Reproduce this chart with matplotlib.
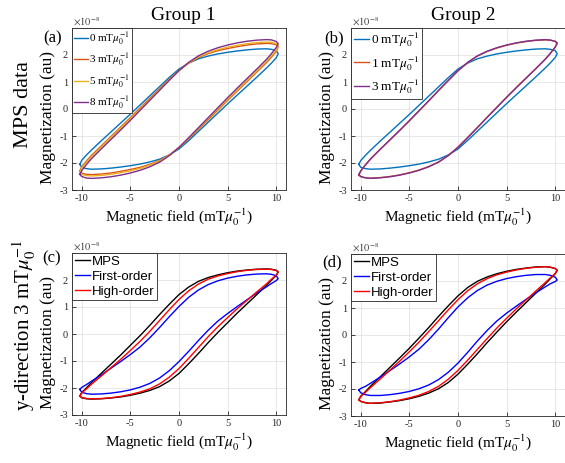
import numpy as np
import matplotlib
matplotlib.use('Agg')
import matplotlib.pyplot as plt

plt.rcParams['font.family'] = ['Liberation Serif', 'DejaVu Serif']
plt.rcParams['mathtext.fontset'] = 'stix'
plt.rcParams['axes.unicode_minus'] = False

# field values (mT/mu0) where the rising branch was read; the falling branch
# is the point reflection of the rising one
field = [-10.2, -10, -9.5, -9, -8, -7, -6, -5, -4, -3, -2, -1, 0,
         1, 2, 3, 4, 5, 6, 7, 8, 9, 9.5, 10, 10.2]

# (a) group 1, MPS data, rising branch, x1e-8 au
a_0mT = [-2.05, -2.16, -2.21, -2.23, -2.22, -2.19, -2.15, -2.10, -2.04, -1.96, -1.86, -1.70, -1.48,
         -1.17, -0.83, -0.49, -0.15, 0.19, 0.52, 0.85, 1.18, 1.52, 1.70, 1.90, 2.05]
a_3mT = [-2.30, -2.38, -2.42, -2.43, -2.41, -2.37, -2.31, -2.24, -2.16, -2.05, -1.91, -1.70, -1.43,
         -1.10, -0.75, -0.40, -0.04, 0.32, 0.67, 1.02, 1.37, 1.72, 1.92, 2.14, 2.30]
a_5mT = [-2.35, -2.42, -2.47, -2.48, -2.46, -2.42, -2.36, -2.29, -2.20, -2.08, -1.93, -1.71, -1.42,
         -1.08, -0.72, -0.36, 0.00, 0.36, 0.71, 1.06, 1.41, 1.77, 1.97, 2.18, 2.35]
a_8mT = [-2.42, -2.50, -2.56, -2.57, -2.55, -2.51, -2.45, -2.37, -2.27, -2.14, -1.97, -1.73, -1.42,
         -1.06, -0.69, -0.32, 0.05, 0.42, 0.78, 1.13, 1.48, 1.84, 2.05, 2.28, 2.42]

# (b) group 2, MPS data
b_0mT = [-2.05, -2.16, -2.21, -2.23, -2.22, -2.19, -2.15, -2.10, -2.04, -1.96, -1.86, -1.70, -1.48,
         -1.16, -0.82, -0.48, -0.14, 0.20, 0.53, 0.86, 1.19, 1.53, 1.71, 1.91, 2.05]
b_1mT = [-2.45, -2.51, -2.55, -2.56, -2.54, -2.50, -2.44, -2.36, -2.26, -2.13, -1.96, -1.72, -1.41,
         -1.05, -0.68, -0.30, 0.07, 0.44, 0.80, 1.15, 1.50, 1.86, 2.07, 2.30, 2.45]
b_3mT = [-2.43, -2.50, -2.55, -2.57, -2.55, -2.51, -2.45, -2.37, -2.27, -2.14, -1.97, -1.73, -1.42,
         -1.06, -0.69, -0.31, 0.06, 0.43, 0.79, 1.14, 1.49, 1.85, 2.06, 2.29, 2.43]

# (c) group 1, y-direction 3 mT: data vs models
c_mps = [-2.30, -2.36, -2.40, -2.41, -2.40, -2.37, -2.33, -2.27, -2.19, -2.09, -1.95, -1.74, -1.46,
         -1.10, -0.72, -0.32, 0.06, 0.42, 0.78, 1.12, 1.46, 1.80, 1.99, 2.17, 2.30]
c_first = [-2.05, -2.16, -2.21, -2.23, -2.22, -2.19, -2.14, -2.07, -1.97, -1.83, -1.63, -1.36, -1.02,
           -0.64, -0.24, 0.14, 0.48, 0.76, 1.02, 1.27, 1.52, 1.75, 1.87, 1.98, 2.05]
c_high = [-2.30, -2.35, -2.39, -2.40, -2.39, -2.36, -2.31, -2.24, -2.15, -2.03, -1.85, -1.60, -1.28,
          -0.90, -0.50, -0.10, 0.27, 0.61, 0.94, 1.25, 1.56, 1.86, 2.03, 2.18, 2.30]

# (d) group 2, y-direction 3 mT: data vs models
d_mps = [-2.40, -2.46, -2.51, -2.53, -2.52, -2.48, -2.43, -2.36, -2.27, -2.15, -1.99, -1.76, -1.45,
         -1.08, -0.69, -0.28, 0.11, 0.49, 0.85, 1.20, 1.55, 1.90, 2.09, 2.27, 2.40]
d_first = [-2.04, -2.14, -2.21, -2.24, -2.24, -2.21, -2.16, -2.09, -1.99, -1.85, -1.65, -1.38, -1.04,
           -0.64, -0.22, 0.17, 0.52, 0.81, 1.07, 1.32, 1.56, 1.79, 1.90, 1.98, 2.04]
d_high = [-2.40, -2.46, -2.51, -2.53, -2.51, -2.47, -2.41, -2.33, -2.23, -2.09, -1.90, -1.64, -1.31,
          -0.93, -0.53, -0.13, 0.26, 0.62, 0.97, 1.30, 1.63, 1.95, 2.12, 2.28, 2.40]

W, H = 565, 463
fig = plt.figure(figsize=(W / 100, H / 100), dpi=100)


def loop(m):
    x = np.array(field, dtype=float)
    y = np.array(m, dtype=float)
    return np.concatenate([x, -x]), np.concatenate([y, -y])


def make_axes(left, top, bottom, width=214):
    ax = fig.add_axes([left / W, 1 - bottom / H, width / W, (bottom - top) / H])
    ax.set_xlim(-11, 11)
    ax.set_ylim(-3, 3)
    ax.set_xticks([-10, -5, 0, 5, 10])
    ax.set_yticks([-3, -2, -1, 0, 1, 2])
    ax.grid(True, color='#e3e3e3', lw=0.6)
    ax.set_axisbelow(True)
    ax.tick_params(direction='in', length=3, width=0.6, labelsize=7.5,
                   colors='#262626', pad=3)
    for s in ax.spines.values():
        s.set_color('#262626')
        s.set_linewidth(0.6)
    ax.set_xlabel(r'Magnetic field (mT$\mu_0^{-1}$)', fontsize=11, labelpad=2.5)
    ax.set_ylabel('Magnetization (au)', fontsize=12.5)
    ax.yaxis.set_label_coords(-0.075, 0.45)
    fig.text((left + 1) / W, 1 - (top - 6) / H, r'$\times10^{-8}$', fontsize=7.5,
             color='#404040', ha='left', va='center')
    return ax


def ftext(x, y, s, **kw):
    fig.text(x / W, 1 - y / H, s, **kw)


def add_legend(ax, **kw):
    leg = ax.legend(loc='upper left', bbox_to_anchor=(0, 1), borderaxespad=0,
                    handlelength=1.2, handletextpad=0.1, borderpad=0.2,
                    fancybox=False, framealpha=1, edgecolor='#262626', **kw)
    leg.get_frame().set_linewidth(0.6)


mpl_blue, mpl_orange, mpl_yellow, mpl_purple = '#0072BD', '#D95319', '#EDB120', '#7E2F8E'
lw = 1.0

# (a)
ax = make_axes(72, 28, 190)
for m, c, lab in [(a_0mT, mpl_blue, '0'), (a_3mT, mpl_orange, '3'),
                  (a_5mT, mpl_yellow, '5'), (a_8mT, mpl_purple, '8')]:
    ax.plot(*loop(m), color=c, lw=lw, label=lab + r' mT$\mu_0^{-1}$')
add_legend(ax, fontsize=8, labelspacing=0.4)

# (b)
ax = make_axes(351, 28, 190)
for m, c, lab in [(b_0mT, mpl_blue, '0'), (b_1mT, mpl_orange, '1'), (b_3mT, mpl_purple, '3')]:
    ax.plot(*loop(m), color=c, lw=lw, label=lab + r' mT$\mu_0^{-1}$')
add_legend(ax, fontsize=9.5, labelspacing=0.35)

# (c), (d)
for left, top, bottom, mps, first, high in [(72, 253, 415, c_mps, c_first, c_high),
                                            (351, 254, 416, d_mps, d_first, d_high)]:
    ax = make_axes(left, top, bottom)
    ax.plot(*loop(mps), color='k', lw=lw, label='MPS')
    ax.plot(*loop(first), color='#0000FF', lw=lw, label='First-order')
    ax.plot(*loop(high), color='#FF0000', lw=lw, label='High-order')
    add_legend(ax, prop={'family': 'Liberation Sans', 'size': 9.5}, labelspacing=0.2)

# panel letters
ftext(53, 38, '(a)', fontsize=12, ha='center', va='center')
ftext(334, 38, '(b)', fontsize=12, ha='center', va='center')
ftext(52, 258, '(c)', fontsize=12, ha='center', va='center')
ftext(332, 262, '(d)', fontsize=12, ha='center', va='center')

# column and row titles
ftext(183, 16, 'Group 1', fontsize=14, ha='center', va='center')
ftext(463, 16, 'Group 2', fontsize=14, ha='center', va='center')
ftext(24, 105, 'MPS data', fontsize=16, rotation=90, ha='center', va='center')
ftext(24, 325, r'y-direction 3 mT$\mu_0^{-1}$', fontsize=15, rotation=90,
      ha='center', va='center')

fig.savefig('out.png', dpi=100)
